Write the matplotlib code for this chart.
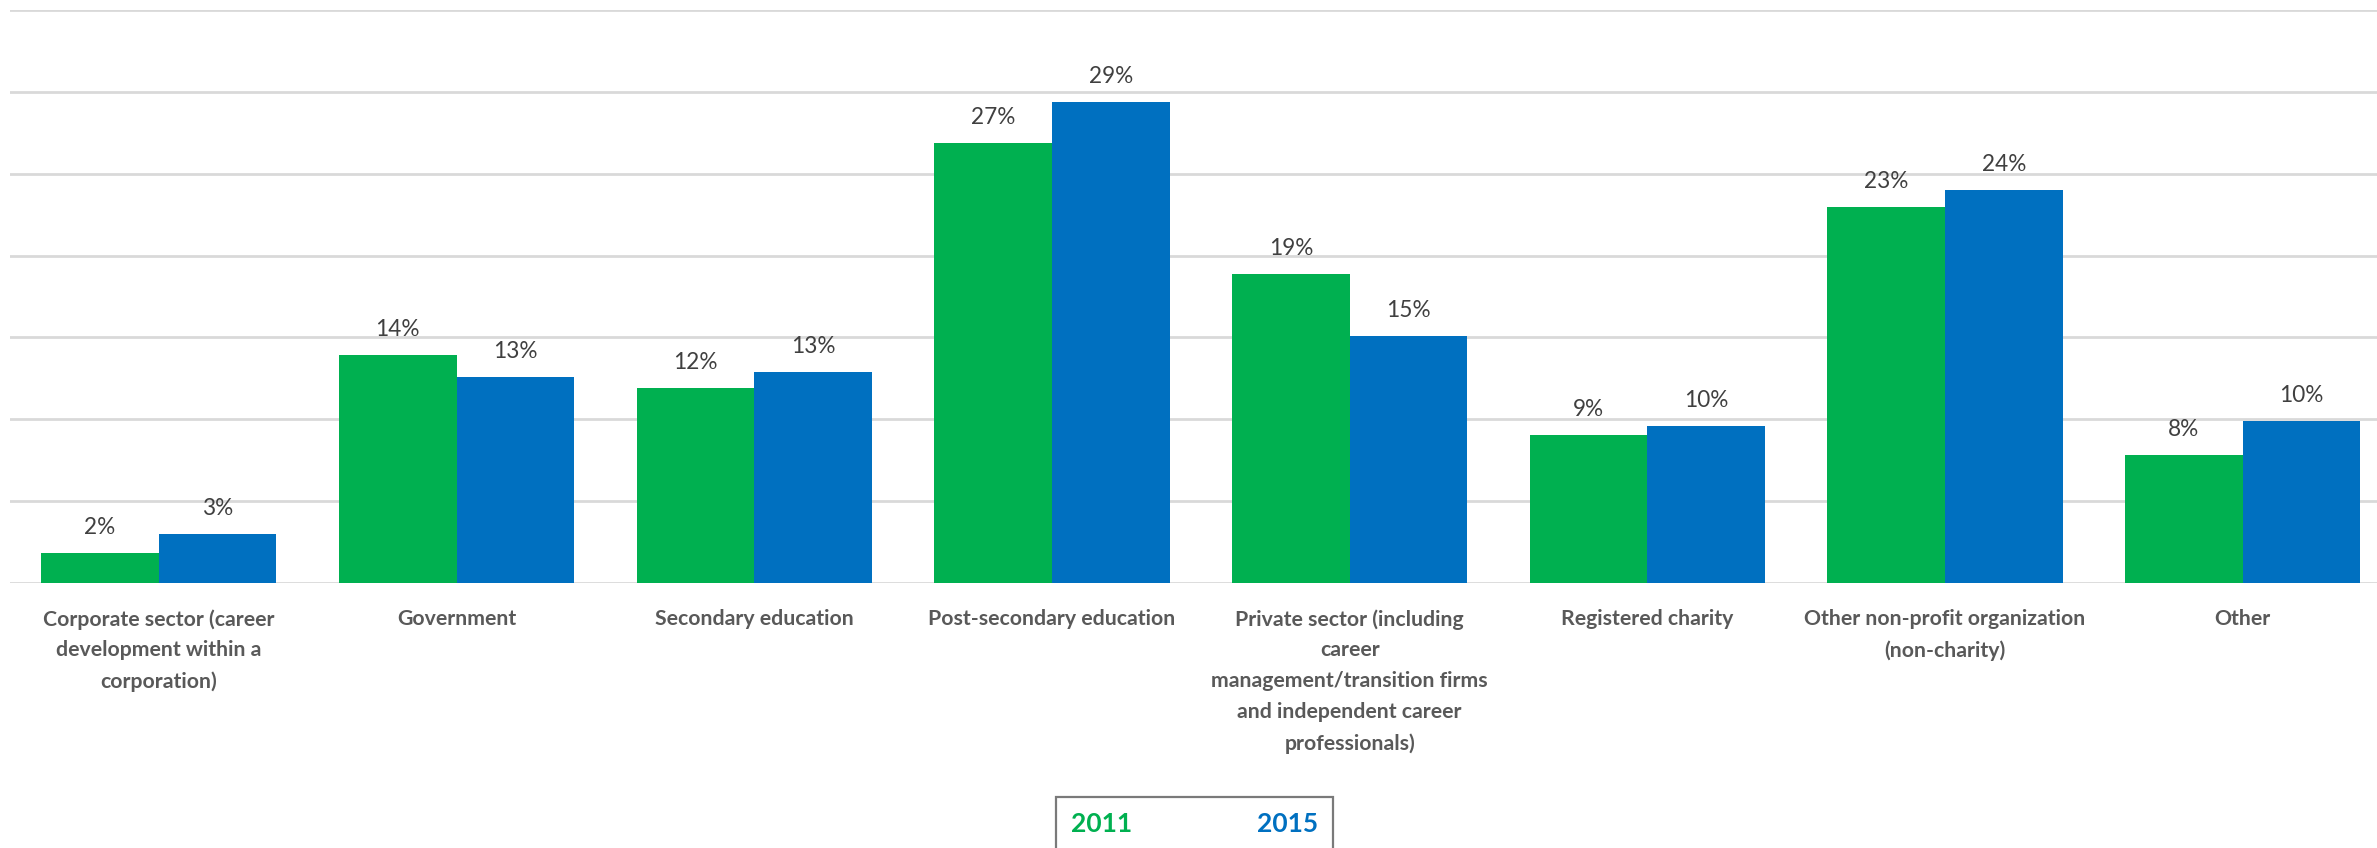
import matplotlib
matplotlib.use("Agg")
import matplotlib.pyplot as plt
import numpy as np

# Share of respondents by sector of employment, survey years 2011 and 2015 (%)
categories = [
    "Corporate sector (career\ndevelopment within a\ncorporation)",
    "Government",
    "Secondary education",
    "Post-secondary education",
    "Private sector (including\ncareer\nmanagement/transition firms\nand independent career\nprofessionals)",
    "Registered charity",
    "Other non-profit organization\n(non-charity)",
    "Other",
]
values_2011 = [1.8, 13.9, 11.9, 26.9, 18.9, 9.0, 23.0, 7.8]
values_2015 = [3.0, 12.6, 12.9, 29.4, 15.1, 9.6, 24.0, 9.9]
series_names = ["2011", "2015"]

GREEN = "#00B050"
BLUE = "#0070C0"
GRID = "#D9D9D9"
LABEL_GRAY = "#404040"
CAT_GRAY = "#595959"
FONT = ["Lato", "DejaVu Sans"]

W, H, DPI = 2377, 848, 100
fig = plt.figure(figsize=(W / DPI, H / DPI), dpi=DPI)

# plot area in pixel terms (extends slightly past the right edge)
left_px, top_px, base_px, pitch_px = 10, 10.3, 582.6, 297.7
ax = fig.add_axes([left_px / W, 1 - base_px / H,
                   8 * pitch_px / W, (base_px - top_px) / H])

x = np.arange(len(categories))
bw = 0.395
b1 = ax.bar(x - bw / 2, values_2011, bw, color=GREEN, zorder=3, label=series_names[0])
b2 = ax.bar(x + bw / 2, values_2015, bw, color=BLUE, zorder=3, label=series_names[1])

ax.set_xlim(-0.5, len(categories) - 0.5)
ax.set_ylim(0, 35)
ax.set_yticks(np.arange(0, 36, 5))
ax.yaxis.grid(True, color=GRID, linewidth=2.0, zorder=0)
ax.tick_params(axis="y", length=0, labelleft=False)
for s in ax.spines.values():
    s.set_visible(False)

# value labels above each bar
off = 19 * 72 / DPI
for bars, vals in ((b1, values_2011), (b2, values_2015)):
    for rect, v in zip(bars, vals):
        ax.annotate(f"{v:.0f}%", (rect.get_x() + rect.get_width() / 2, v),
                    xytext=(0, off), textcoords="offset points",
                    ha="center", va="baseline", fontsize=16.3,
                    color=LABEL_GRAY, family=FONT)

# category labels
ax.set_xticks(x)
ax.set_xticklabels(categories, fontsize=15.3, fontweight="bold",
                   color=CAT_GRAY, family=FONT, linespacing=1.68)
ax.tick_params(axis="x", length=0, pad=19)

# legend: coloured text inside a plain box
leg = fig.legend(handles=[b1, b2], labels=series_names, ncol=2,
                 loc="upper left",
                 bbox_to_anchor=(1056 / W, 1 - 797 / H),
                 handlelength=0, handletextpad=0, columnspacing=4.75,
                 borderpad=0.55, borderaxespad=0,
                 labelcolor=[GREEN, BLUE], fancybox=False,
                 prop={"family": FONT, "weight": "bold", "size": 19})
for h in leg.legend_handles:
    h.set_visible(False)
fr = leg.get_frame()
fr.set_edgecolor("#595959")
fr.set_linewidth(1.6)

fig.savefig("out.png", dpi=DPI)
